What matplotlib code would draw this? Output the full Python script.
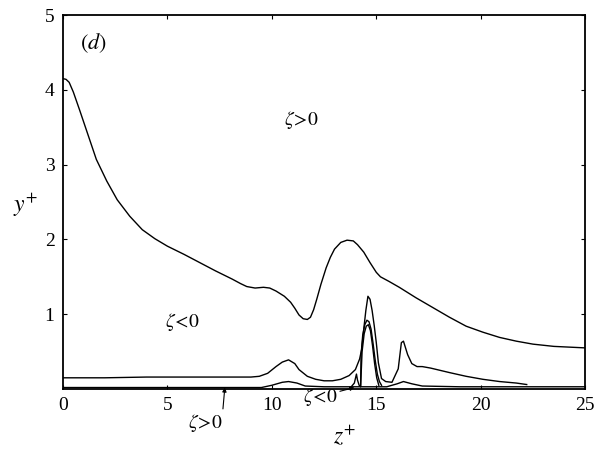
import matplotlib.pyplot as plt

plt.rcParams['font.family'] = ['Liberation Serif', 'DejaVu Serif']
plt.rcParams['mathtext.fontset'] = 'stix'

# outer boundary (zeta > 0 above)
z_top = [0.0, 0.15, 0.3, 0.5, 0.8, 1.2, 1.6, 2.1, 2.6, 3.2, 3.8, 4.4, 5.0, 5.8, 6.55,
         7.3, 8.1, 8.5, 8.8, 9.2, 9.6, 9.9, 10.2, 10.6, 10.9, 11.1, 11.3, 11.5,
         11.7, 11.85, 12.0, 12.15, 12.35, 12.6, 12.8, 13.0, 13.3, 13.6, 13.9, 14.1,
         14.4, 14.7, 15.0, 15.2, 15.4, 15.6, 16.1, 16.9, 17.7, 18.5, 19.3, 20.1,
         20.9, 21.7, 22.5, 23.5, 25.0]
y_top = [4.15, 4.14, 4.10, 3.97, 3.73, 3.40, 3.07, 2.78, 2.53, 2.31, 2.13, 2.01,
         1.91, 1.80, 1.69, 1.58, 1.47, 1.41, 1.37, 1.35, 1.36, 1.35, 1.31, 1.24,
         1.16, 1.08, 0.99, 0.94, 0.93, 0.96, 1.06, 1.20, 1.40, 1.62, 1.76, 1.87,
         1.96, 1.99, 1.98, 1.93, 1.83, 1.69, 1.56, 1.50, 1.47, 1.44, 1.36, 1.22,
         1.09, 0.96, 0.84, 0.76, 0.69, 0.64, 0.60, 0.57, 0.55]

# lower boundary of the zeta < 0 region
z_low = [0.0, 2.0, 4.0, 6.0, 8.0, 9.0, 9.4, 9.8, 10.2, 10.5, 10.8, 11.1, 11.3, 11.7,
         12.1, 12.5, 12.9, 13.3, 13.7, 14.0, 14.2, 14.3, 14.4, 14.5, 14.6, 14.7,
         14.8, 14.9, 15.0, 15.1, 15.25, 15.45, 15.75, 16.05, 16.2, 16.3, 16.5, 16.7,
         16.95, 17.2, 17.6, 18.5, 19.3, 20.1, 20.9, 21.7, 22.2]
y_low = [0.15, 0.15, 0.16, 0.16, 0.16, 0.16, 0.17, 0.21, 0.30, 0.36, 0.39, 0.34,
         0.26, 0.17, 0.13, 0.11, 0.11, 0.13, 0.18, 0.26, 0.40, 0.53, 0.80, 1.05,
         1.24, 1.20, 1.05, 0.85, 0.62, 0.35, 0.14, 0.10, 0.09, 0.27, 0.62, 0.64,
         0.46, 0.34, 0.30, 0.30, 0.28, 0.22, 0.17, 0.13, 0.10, 0.08, 0.06]

# inner lobes near z+ = 14.6
z_lobe1 = [14.25, 14.27, 14.35, 14.45, 14.55, 14.65, 14.75, 14.85, 14.95, 15.05, 15.15, 15.25]
y_lobe1 = [0.04, 0.45, 0.72, 0.86, 0.92, 0.90, 0.80, 0.60, 0.38, 0.20, 0.10, 0.05]
z_lobe2 = [14.25, 14.32, 14.42, 14.52, 14.62, 14.72, 14.82, 14.92, 15.02, 15.12]
y_lobe2 = [0.04, 0.50, 0.74, 0.84, 0.86, 0.78, 0.58, 0.34, 0.15, 0.05]

# small spike and near-wall line
z_spike = [13.8, 13.95, 14.05, 14.1, 14.18, 14.25]
y_spike = [0.03, 0.08, 0.20, 0.12, 0.05, 0.03]
z_wall = [0.0, 4.0, 8.0, 9.5, 10.0, 10.5, 10.8, 11.2, 11.6, 12.5, 13.5, 15.5, 16.0,
          16.3, 16.7, 17.2, 19.0, 22.0, 25.0]
y_wall = [0.02, 0.02, 0.02, 0.02, 0.05, 0.09, 0.10, 0.08, 0.04, 0.03, 0.03, 0.03,
          0.07, 0.10, 0.07, 0.04, 0.03, 0.03, 0.03]

fig = plt.figure(figsize=(5.99, 4.55), dpi=100)
ax = fig.add_axes([0.105, 0.145, 0.872, 0.822])

kw = dict(color='black', lw=1.0)
ax.plot(z_top, y_top, **kw)
ax.plot(z_low, y_low, **kw)
ax.plot(z_lobe1, y_lobe1, **kw)
ax.plot(z_lobe2, y_lobe2, **kw)
ax.plot(z_spike, y_spike, **kw)
ax.plot(z_wall, y_wall, **kw)

ax.set_xlim(0, 25)
ax.set_ylim(0, 5)
ax.set_xticks([0, 5, 10, 15, 20, 25])
ax.set_yticks([1, 2, 3, 4, 5])
ax.tick_params(direction='in', length=3, labelsize=14, top=True, right=True, pad=6)
for s in ax.spines.values():
    s.set_linewidth(1.3)

ax.set_xlabel(r'$z^{+}$', fontsize=17)
ax.set_ylabel(r'$y^{+}$', fontsize=17, rotation=0)
ax.xaxis.set_label_coords(0.54, -0.095)
ax.yaxis.set_label_coords(-0.072, 0.455)

ax.text(0.8, 4.55, r'$(d)$', fontsize=16)
ax.text(11.4, 3.6, r'$\zeta\!>\!0$', fontsize=14, ha='center', va='center')
ax.text(5.7, 0.9, r'$\zeta\!<\!0$', fontsize=14, ha='center', va='center')

ax.annotate(r'$\zeta\!>\!0$', xy=(7.75, 0.02), xytext=(6.8, -0.45),
            fontsize=14, ha='center', va='center', annotation_clip=False,
            arrowprops=dict(arrowstyle='-|>', color='black', lw=0.8,
                            connectionstyle='angle,angleA=0,angleB=85,rad=0',
                            shrinkA=0, shrinkB=0, mutation_scale=6))
ax.annotate(r'$\zeta\!<\!0$', xy=(13.95, 0.02), xytext=(12.3, -0.1),
            fontsize=14, ha='center', va='center', annotation_clip=False,
            arrowprops=dict(arrowstyle='-|>', color='black', lw=0.8,
                            shrinkA=0, shrinkB=0, mutation_scale=6))

fig.savefig('out.png', dpi=100)
